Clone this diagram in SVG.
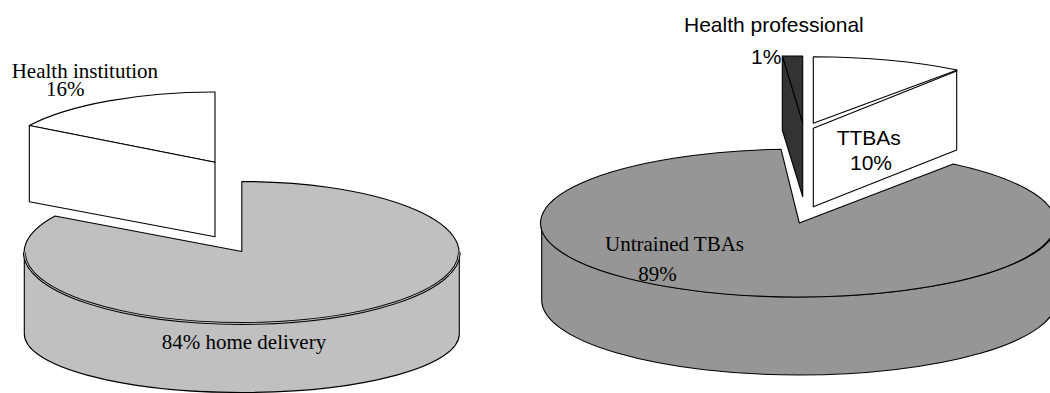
<svg xmlns="http://www.w3.org/2000/svg" width="1050" height="393" viewBox="0 0 1050 393">
  <style>
    .edge { stroke: #000; stroke-width: 1.1; stroke-linejoin: round; }
    .lgray { fill: #c0c0c0; }
    .rgray { fill: #969696; }
    .white { fill: #ffffff; }
    .dark { fill: #333333; }
    .serif { font-family: "Liberation Serif", "Times New Roman", serif; font-size: 21px; fill: #000; }
    .sans { font-family: "Liberation Sans", Arial, sans-serif; font-size: 21px; fill: #000; }
  </style>
  <rect width="1050" height="393" fill="#ffffff"/>

  <!-- Left pie: place of delivery -->
  <g id="home-delivery-slice">
    <path class="lgray edge" d="M 24.3,252.5 A 217.5 71 0 0 0 459.3,252.5 L 459.3,334 A 217.5 58.5 0 0 1 24.3,334 Z"/>
    <path class="lgray edge" d="M 241.8,251.5 L 241.8,181.5 A 217.5 71 0 1 1 55,216 Z"/>
    <path d="M 24.3,252.5 A 217.5 71 0 0 0 459.3,252.5" fill="none" stroke="#000" stroke-width="2.8"/>
    <path d="M 24.3,252.5 A 217.5 71 0 0 0 459.3,252.5" fill="none" stroke="#f2f2f2" stroke-width="0.8"/>
    <text class="serif" x="161.7" y="349.3">84% home delivery</text>
  </g>
  <g id="health-institution-slice">
    <path class="white edge" d="M 215,162.3 L 215,92 A 217.5 71 0 0 0 29.3,125.5 Z"/>
    <path class="white edge" d="M 29.3,125.5 L 215,162.3 L 215,236.7 L 29.3,201.7 Z"/>
    <text class="serif" x="11.7" y="78.3">Health institution</text>
    <text class="serif" x="46" y="96">16%</text>
  </g>

  <!-- Right pie: birth attendant -->
  <g id="untrained-tbas-slice">
    <path class="rgray edge" d="M 541.7,223 A 257.5 74 0 0 0 1056.7,223 L 1056.7,300 A 257.5 75 0 0 1 541.7,300 Z"/>
    <path class="rgray edge" d="M 799.3,223 L 781,149.2 A 257.5 74 0 1 0 953.3,164 Z"/>
    <text class="serif" x="605" y="251">Untrained TBAs</text>
    <text class="serif" x="638.3" y="280.7">89%</text>
  </g>
  <g id="health-professional-slice">
    <path class="dark edge" d="M 782.3,56 L 802.7,56 L 802.7,123.3 Z"/>
    <path class="dark edge" d="M 782.3,56 L 802.7,123.3 L 802.7,196.7 L 782.3,130 Z"/>
    <text class="sans" x="684" y="31.7">Health professional</text>
    <text class="sans" x="751" y="64">1%</text>
  </g>
  <g id="ttbas-slice">
    <path class="white edge" d="M 813.3,123.3 L 813.3,56.7 A 244 66.6 0 0 1 957.3,70 Z"/>
    <path class="white edge" d="M 813.3,128.3 L 956.7,71 L 956.7,150 L 813.3,206.7 Z"/>
    <text class="sans" x="836.7" y="145">TTBAs</text>
    <text class="sans" x="850" y="170">10%</text>
  </g>

  <g id="connectors"></g>
</svg>
